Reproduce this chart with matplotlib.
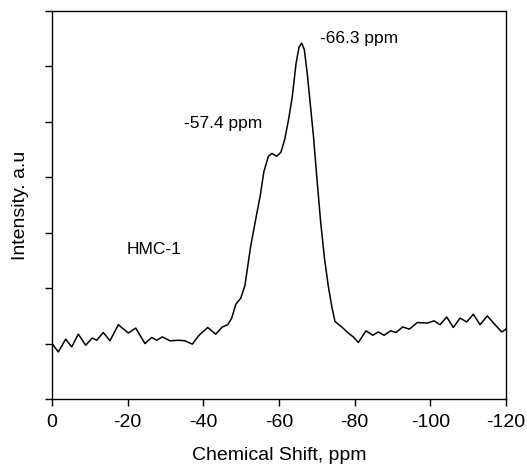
import matplotlib
matplotlib.use("Agg")
import matplotlib.pyplot as plt

shift_ppm = [0, -1.67, -3.62, -5.21, -6.95, -8.91, -10.65, -11.82, -13.56, -15.33, -17.53,
             -20.17, -22.13, -24.58, -26.35, -27.68, -29.16, -31.19, -33.39, -35.16, -37.09,
             -38.86, -41.16, -43.27, -45.02, -46.44, -47.5, -48.6, -49.9, -51.0, -52.5,
             -54.0, -55.0, -56.0, -57.2, -58.1, -59.4, -60.5, -61.5, -62.5, -63.5, -64.5,
             -65.3, -66.0, -66.7, -67.5, -68.3, -69.1, -70.0, -71.0, -72.0, -73.0, -74.0,
             -74.8, -76.58, -78.32, -79.65, -80.97, -83.00, -84.77, -86.25, -87.76, -89.53,
             -90.93, -92.70, -94.45, -96.56, -99.21, -100.98, -102.56, -104.33, -106.08,
             -107.85, -109.62, -111.37, -113.14, -115.07, -117.10, -118.87, -120.0]
intensity = [1.00, 0.85, 1.08, 0.94, 1.17, 0.97, 1.10, 1.06, 1.20, 1.05, 1.34,
             1.19, 1.28, 1.00, 1.11, 1.06, 1.12, 1.05, 1.06, 1.05, 0.99,
             1.15, 1.29, 1.17, 1.30, 1.34, 1.46, 1.71, 1.82, 2.05, 2.75,
             3.30, 3.65, 4.10, 4.38, 4.43, 4.38, 4.45, 4.68, 5.03, 5.45, 6.05,
             6.35, 6.42, 6.30, 5.85, 5.30, 4.75, 4.00, 3.20, 2.55, 2.05, 1.65,
             1.40, 1.30, 1.19, 1.12, 1.02, 1.23, 1.15, 1.21, 1.15, 1.23,
             1.20, 1.30, 1.26, 1.38, 1.37, 1.41, 1.34, 1.48, 1.29,
             1.46, 1.39, 1.53, 1.34, 1.50, 1.34, 1.21, 1.26]

x_ticks = [0, -20, -40, -60, -80, -100, -120]
x_tick_labels = ["0", "-20", "-40", "-60", "-80", "-100", "-120"]
y_ticks = [0, 1, 2, 3, 4, 5, 6, 7]

annotations = [("-66.3 ppm", -70.8, 6.51), ("-57.4 ppm", -34.8, 4.97), ("HMC-1", -19.6, 2.69)]

plt.rcParams['font.family'] = ['Liberation Sans', 'DejaVu Sans']

fig = plt.figure(figsize=(5.27, 4.71), dpi=100)
ax = fig.add_axes([52/527, 1 - 399/471, (506-52)/527, (399-11)/471])

ax.plot(shift_ppm, intensity, color='black', linewidth=1.1, solid_joinstyle='round')

ax.set_xlim(0, -120)
ax.set_ylim(0, 7)
ax.set_xticks(x_ticks)
ax.set_xticklabels(x_tick_labels, fontsize=14)
ax.set_yticks(y_ticks)
ax.set_yticklabels([])
ax.tick_params(axis='both', direction='out', length=5, width=1, color='black')
ax.tick_params(axis='x', pad=6)

for s in ax.spines.values():
    s.set_linewidth(1.0)
    s.set_color('black')

for txt, xv, yv in annotations:
    ax.text(xv, yv, txt, fontsize=12.5, ha='left', va='center')

ax.set_xlabel("Chemical Shift, ppm", fontsize=14, labelpad=11)
ax.set_ylabel("Intensity. a.u", fontsize=14, labelpad=8)

fig.savefig("out.png", dpi=100)
